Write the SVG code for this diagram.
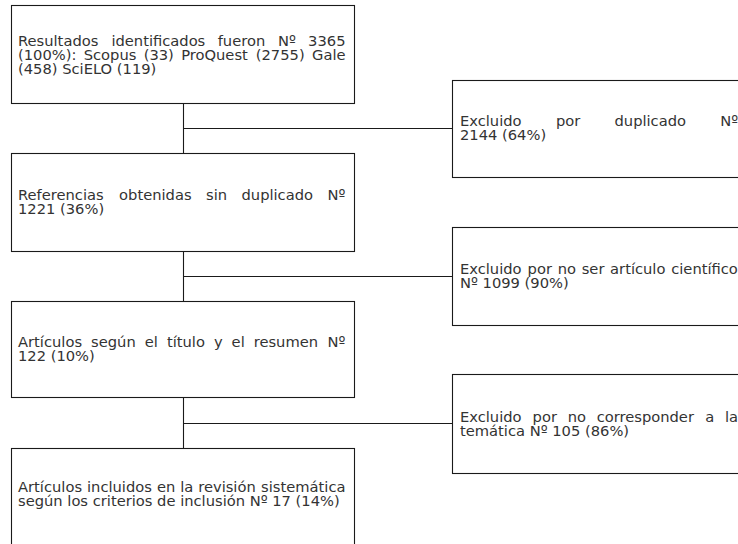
<svg xmlns="http://www.w3.org/2000/svg" width="738" height="544" viewBox="0 0 738 544">
<style>
.box{fill:#fff;stroke:#1a1a1a;stroke-width:1.1}
.c{fill:none;stroke:#1a1a1a;stroke-width:1.1}
text{font-family:"DejaVu Sans","Verdana",sans-serif;font-size:14.7px;fill:#333}
</style>
<rect width="738" height="544" fill="#fff"/>
<g id="connectors">
<path class="c" d="M183.5 103.5V153.5M183.5 128.5H452.5"/>
<path class="c" d="M183.5 251.5V301.5M183.5 276.5H452.5"/>
<path class="c" d="M183.5 397.5V448.5M183.5 423.5H452.5"/>
</g>
<g id="n1">
<rect class="box" x="11.5" y="5.5" width="343" height="98"/>
<text><tspan x="18" y="45.5">Resultados</tspan><tspan x="111.4" y="45.5">identificados</tspan><tspan x="217.7" y="45.5">fueron</tspan><tspan x="277.9" y="45.5">Nº</tspan><tspan x="308.1" y="45.5">3365</tspan><tspan x="18" y="59.5">(100%):</tspan><tspan x="83.7" y="59.5">Scopus</tspan><tspan x="143.7" y="59.5">(33)</tspan><tspan x="181.2" y="59.5">ProQuest</tspan><tspan x="255.8" y="59.5">(2755)</tspan><tspan x="312" y="59.5">Gale</tspan><tspan x="18" y="73.5">(458) SciELO (119)</tspan></text>
</g>
<g id="n2">
<rect class="box" x="452.5" y="80.5" width="300" height="97"/>
<text><tspan x="460" y="126">Excluido</tspan><tspan x="556" y="126">por</tspan><tspan x="614.5" y="126">duplicado</tspan><tspan x="720.2" y="126">Nº</tspan><tspan x="460" y="140">2144 (64%)</tspan></text>
</g>
<g id="n3">
<rect class="box" x="11.5" y="153.5" width="343" height="98"/>
<text><tspan x="18" y="200">Referencias</tspan><tspan x="119.1" y="200">obtenidas</tspan><tspan x="206" y="200">sin</tspan><tspan x="241.5" y="200">duplicado</tspan><tspan x="327.5" y="200">Nº</tspan><tspan x="18" y="214">1221 (36%)</tspan></text>
</g>
<g id="n4">
<rect class="box" x="452.5" y="227.5" width="300" height="98"/>
<text><tspan x="460" y="274">Excluido</tspan><tspan x="527.6" y="274">por</tspan><tspan x="557.7" y="274">no</tspan><tspan x="581.7" y="274">ser</tspan><tspan x="610.1" y="274">artículo</tspan><tspan x="671.2" y="274">científico</tspan><tspan x="460" y="288">Nº 1099 (90%)</tspan></text>
</g>
<g id="n5">
<rect class="box" x="11.5" y="301.5" width="343" height="96"/>
<text><tspan x="18" y="347">Artículos</tspan><tspan x="91.1" y="347">según</tspan><tspan x="144.8" y="347">el</tspan><tspan x="166.9" y="347">título</tspan><tspan x="213.9" y="347">y</tspan><tspan x="231.6" y="347">el</tspan><tspan x="253.7" y="347">resumen</tspan><tspan x="327.4" y="347">Nº</tspan><tspan x="18" y="361">122 (10%)</tspan></text>
</g>
<g id="n6">
<rect class="box" x="452.5" y="374.5" width="300" height="99"/>
<text><tspan x="460" y="421.5">Excluido</tspan><tspan x="532.6" y="421.5">por</tspan><tspan x="567.7" y="421.5">no</tspan><tspan x="596.7" y="421.5">corresponder</tspan><tspan x="705.3" y="421.5">a</tspan><tspan x="725" y="421.5">la</tspan><tspan x="460" y="435.5">temática Nº 105 (86%)</tspan></text>
</g>
<g id="n7">
<rect class="box" x="11.5" y="448.5" width="343" height="98"/>
<text><tspan x="18" y="492">Artículos</tspan><tspan x="87" y="492">incluidos</tspan><tspan x="156.9" y="492">en</tspan><tspan x="180.2" y="492">la</tspan><tspan x="198.2" y="492">revisión</tspan><tspan x="261.1" y="492">sistemática</tspan><tspan x="18" y="506">según los criterios de inclusión Nº 17 (14%)</tspan></text>
</g>
</svg>
